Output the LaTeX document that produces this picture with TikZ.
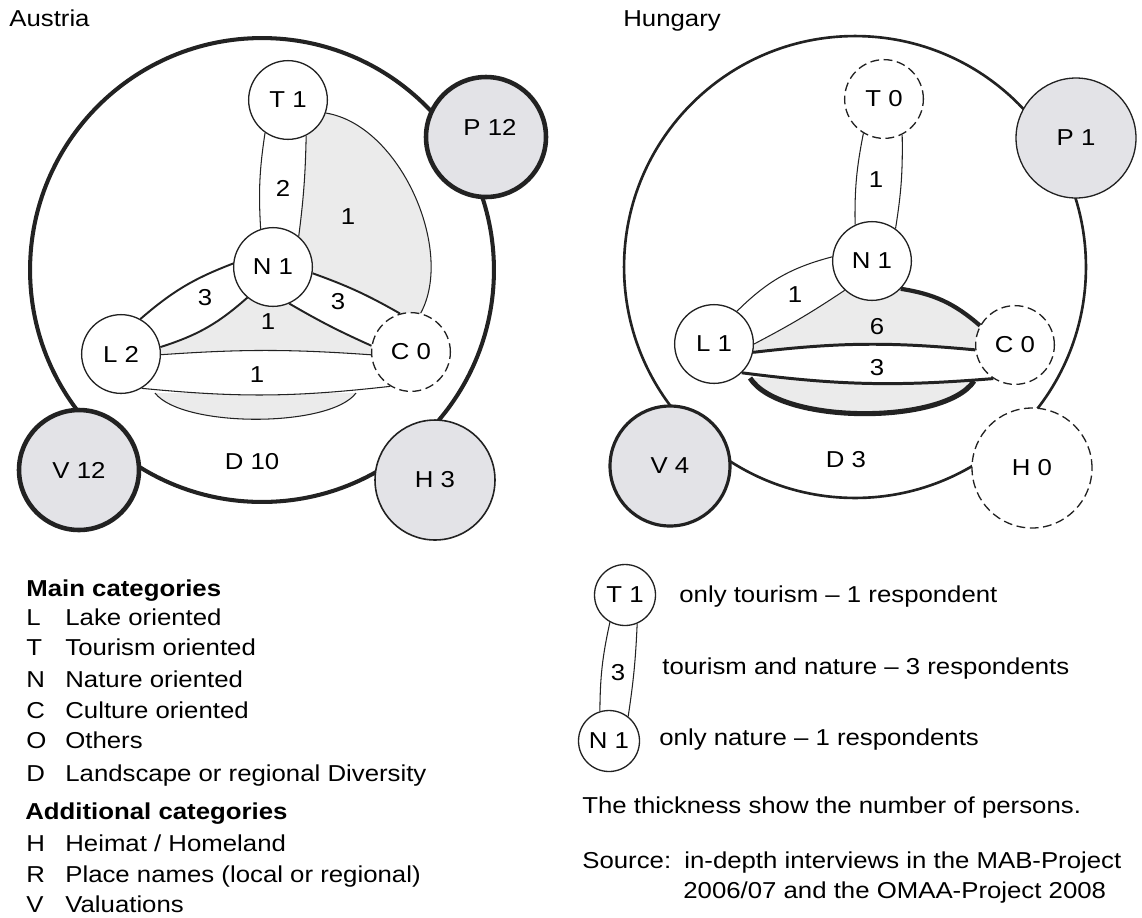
\documentclass[tikz,border=0pt]{standalone}
\usepackage{fontspec}
\setmainfont{Liberation Sans}[FakeStretch=1.12]
\pgfdeclarelayer{bg}
\pgfsetlayers{bg,main}
\definecolor{ink}{HTML}{222222}
\definecolor{addfill}{HTML}{E3E3E7}
\definecolor{regfill}{HTML}{EBEBEB}
\newcommand\myfs{\fontsize{13.1pt}{16pt}\selectfont}
\begin{document}
\begin{tikzpicture}[x=0.02cm,y=-0.02cm,font=\myfs,
  cat/.style={circle,draw=ink,fill=white,line width=0.75pt,minimum size=1.575cm,inner sep=0pt},
  catz/.style={cat,dash pattern=on 5pt off 2.6pt},
  addc/.style={circle,draw=ink,fill=addfill,minimum size=2.4cm,inner sep=0pt},
  thinl/.style={draw=ink,line width=0.6pt},
  medl/.style={draw=ink,line width=1.1pt},
  lbl/.style={inner sep=0pt},
  txt/.style={anchor=base west,inner sep=0pt},
]
\useasboundingbox (0,0) rectangle (1142,917);

% ---------------- Austria ----------------
\coordinate (aO) at (262,270);
\node[cat] (aT) at (288,100) {T 1};
\node[cat] (aN) at (273,267) {N 1};
\node[cat] (aL) at (121,354) {L 2};
\node[catz] (aC) at (411,352) {C 0};
\node[addc,line width=2.6pt] (aP) at (486,137) {};
\node[lbl] (aPt) at (490,127) {P 12};
\node[addc,line width=2.6pt] (aV) at (79,470) {V 12};
\node[addc,line width=0.9pt] (aH) at (435,480) {H 3};
\coordinate (aLb1) at (155,393);
\coordinate (aLb2) at (356,393);

\begin{pgfonlayer}{bg}
  \draw[draw=ink,line width=2.3pt] (aO) circle[radius=4.64cm];
  \fill[regfill] (aT.center) -- (aT.-19) .. controls (400,125) and (455,250) .. (aC.76)
     -- (aC.center) -- (aC.106) to[bend right=5] (aN.-9) -- (aN.center)
     -- (aN.50) to[bend right=3] (aT.-63) -- cycle;
  \fill[regfill] (aL.center) -- (aL.10) to[bend right=12] (aN.-130) -- (aN.center)
     -- (aN.-66) to[bend right=3] (aC.171) -- (aC.center)
     -- (aC.184) to[bend right=4] (aL.-1) -- cycle;
  \fill[regfill] (aLb1) .. controls (182,428) and (330,428) .. (aLb2) -- cycle;
  \fill[white] (aL.-1) to[bend left=4] (aC.184) -- (aC.-121) to[bend left=6] (aL.-59) -- cycle;
\end{pgfonlayer}

\draw[thinl] (aT.-125) to[bend right=6] (aN.108);
\draw[thinl] (aT.-63) to[bend left=3] (aN.50);
\draw[thinl] (aT.-19) .. controls (400,125) and (455,250) .. (aC.76);
\draw[medl] (aL.61) to[bend left=10] (aN.175);
\draw[medl] (aL.10) to[bend right=12] (aN.-130);
\draw[medl] (aN.-9) to[bend left=5] (aC.106);
\draw[medl] (aN.-66) to[bend right=3] (aC.171);
\draw[thinl] (aL.-1) to[bend left=4] (aC.184);
\draw[thinl] (aL.-59) to[bend right=6] (aC.-121);
\draw[thinl] (aLb1) .. controls (182,428) and (330,428) .. (aLb2);

\node[lbl] (al2) at (283,188) {2};
\node[lbl] (al1a) at (348,217) {1};
\node[lbl] (al3a) at (205,298) {3};
\node[lbl] (al3b) at (338,302) {3};
\node[lbl] (al1b) at (268,322) {1};
\node[lbl] (al1c) at (257,375) {1};
\node[lbl] (aD) at (252,462) {D 10};
\node[txt] (atitle) at (9,26) {Austria};

% ---------------- Hungary ----------------
\coordinate (hO) at (855,267);
\node[catz] (hT) at (884,99) {T 0};
\node[cat] (hN) at (872,261) {N 1};
\node[cat] (hL) at (714,344) {L 1};
\node[catz] (hC) at (1015,345) {C 0};
\node[addc,line width=0.75pt] (hP) at (1076,138) {P 1};
\node[addc,line width=1.8pt] (hV) at (670,466) {V 4};
\node[addc,fill=white,line width=0.75pt,dash pattern=on 5pt off 2.6pt] (hH) at (1032,468) {H 0};
\coordinate (hb1) at (750,378);
\coordinate (hb2) at (974,381);

\begin{pgfonlayer}{bg}
  \draw[draw=ink,line width=1.5pt] (hO) circle[radius=4.62cm];
  \fill[regfill] (hL.center) -- (hL.0) to[bend right=3] (hN.-133) -- (hN.center)
     -- (hN.-44) to[bend left=16] (hC.151) -- (hC.center)
     -- (hC.-173) to[bend right=6] (hL.-12) -- cycle;
  \fill[regfill] (hb1) .. controls (780,425) and (945,425) .. (hb2) -- cycle;
  \fill[white] (hL.-12) to[bend left=6] (hC.-173) -- (hC.-123) to[bend left=6] (hL.-46) -- cycle;
\end{pgfonlayer}

\draw[thinl] (hT.-121) to[bend right=6] (hN.115);
\draw[thinl] (hT.-63) to[bend left=5] (hN.54);
\draw[thinl] (hL.55) to[bend left=15] (hN.174);
\draw[thinl] (hL.0) to[bend right=3] (hN.-133);
\draw[draw=ink,line width=2.4pt] (hN.-44) to[bend left=16] (hC.151);
\draw[draw=ink,line width=1.7pt] (hL.-12) to[bend left=6] (hC.-173);
\draw[draw=ink,line width=1.7pt] (hL.-46) to[bend right=6] (hC.-123);
\draw[draw=ink,line width=2.9pt] (hb1) .. controls (780,425) and (945,425) .. (hb2);

\node[lbl] (hl1a) at (876,180) {1};
\node[lbl] (hl1b) at (795,295) {1};
\node[lbl] (hl6) at (877,327) {6};
\node[lbl] (hl3) at (877,368) {3};
\node[lbl] (hD) at (846,460) {D 3};
\node[txt] (htitle) at (623,26) {Hungary};

% ---------------- Legend (left) ----------------
\node[txt,font=\myfs\bfseries] (m0) at (26,596) {Main categories};
\node[txt] (m1k) at (26,625) {L}; \node[txt] (m1) at (65,625) {Lake oriented};
\node[txt] (m2k) at (26,655) {T}; \node[txt] (m2) at (65,655) {Tourism oriented};
\node[txt] (m3k) at (26,687) {N}; \node[txt] (m3) at (65,687) {Nature oriented};
\node[txt] (m4k) at (26,718) {C}; \node[txt] (m4) at (65,718) {Culture oriented};
\node[txt] (m5k) at (26,748) {O}; \node[txt] (m5) at (65,748) {Others};
\node[txt] (m6k) at (26,781) {D}; \node[txt] (m6) at (65,781) {Landscape or regional Diversity};
\node[txt,font=\myfs\bfseries] (a0) at (25,819) {Additional categories};
\node[txt] (a1k) at (26,851) {H}; \node[txt] (a1) at (65,851) {Heimat / Homeland};
\node[txt] (a2k) at (26,882) {R}; \node[txt] (a2) at (65,882) {Place names (local or regional)};
\node[txt] (a3k) at (26,912) {V}; \node[txt] (a3) at (65,912) {Valuations};

% ---------------- Legend (right) ----------------
\node[cat,minimum size=1.22cm] (kT) at (625,595) {T 1};
\node[cat,minimum size=1.22cm] (kN) at (609,741) {N 1};
\draw[thinl] (kT.-119) to[bend right=6] (kN.107);
\draw[thinl] (kT.-67) to[bend left=3] (kN.52);
\node[lbl] (k3) at (618,673) {3};
\node[txt] (r1) at (679,602) {only tourism – 1 respondent};
\node[txt] (r2) at (662,674) {tourism and nature – 3 respondents};
\node[txt] (r3) at (659,745) {only nature – 1 respondents};
\node[txt] (r4) at (582,813) {The thickness show the number of persons.};
\node[txt] (r5) at (582,868) {Source:};
\node[txt] (r6) at (684,868) {in-depth interviews in the MAB-Project};
\node[txt] (r7) at (683,898) {2006/07 and the OMAA-Project 2008};
\end{tikzpicture}
\end{document}
